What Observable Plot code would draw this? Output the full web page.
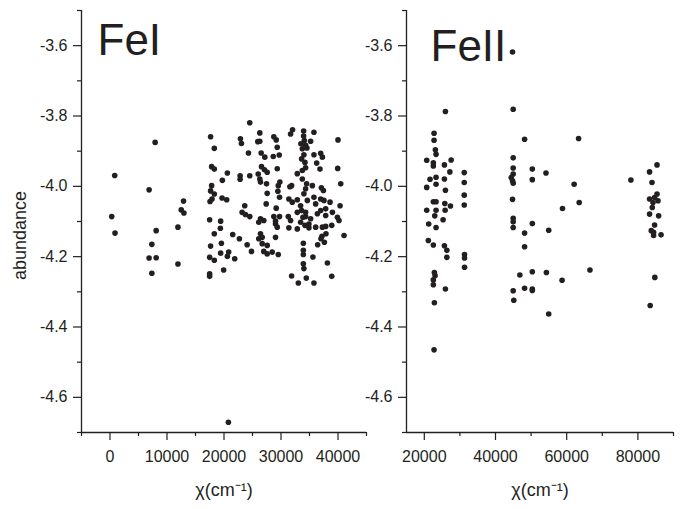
<!DOCTYPE html>
<html><head><meta charset="utf-8">
<script src="https://cdn.jsdelivr.net/npm/d3@7"></script>
<script src="https://cdn.jsdelivr.net/npm/@observablehq/plot@0.6"></script>
<style>
body{margin:0;background:#fff}
#wrap{position:relative;width:682px;height:509px;overflow:hidden}
#wrap svg{position:absolute;top:0}
</style>
</head><body><div id="wrap"></div>
<script>
// Fe I: excitation energy chi (cm^-1) vs abundance
const feI_chi = [7920,830,6860,300,880,8100,7340,6860,8100,7340,
12900,12500,12970,11920,11920,17650,18300,17830,18300,20590,
19710,17830,17650,18300,17550,17900,19660,20470,17480,19410,
19360,18300,17650,19540,19410,20590,17480,18300,19940,17480,
17480,24520,22880,23060,26280,25930,26280,28740,29160,29340,
24290,26520,27160,28640,29690,31680,32030,33970,33970,34090,
35780,35200,33490,34320,33740,34550,34020,33620,34200,35780,
36960,37260,40000,22830,22830,24520,26000,26280,26400,26580,
27100,27580,29340,34320,33740,32860,36260,36840,39950,27460,
29800,29520,27580,29450,29740,31560,31860,33740,34500,34320,
35500,37080,37440,40480,31380,31980,32860,33440,34020,34620,
35780,36080,36960,37540,38600,40360,27400,29160,23640,23180,
23760,24520,26400,26980,26100,28740,29740,29040,29040,29340,
31280,31680,32860,33620,34320,34320,35200,34900,36380,36960,
37840,37840,39020,39900,40180,33850,33440,34200,34900,36080,
31380,32860,37260,37840,38900,21530,22700,24060,26400,26700,
26100,29040,26700,27580,26980,27580,28460,29520,24820,20820,
21880,37190,37890,37010,37610,36430,33920,41060,33920,33920,
35600,38140,33920,34020,31860,33040,34440,35780,38900,20770];
const feI_abund = [-3.875,-3.969,-4.010,-4.086,-4.133,-4.126,-4.165,-4.204,-4.203,-4.247,
-4.042,-4.067,-4.076,-4.116,-4.221,-3.859,-3.892,-3.944,-3.951,-3.962,
-3.983,-3.998,-4.013,-4.022,-4.043,-4.036,-4.033,-4.038,-4.095,-4.099,
-4.119,-4.135,-4.170,-4.162,-4.190,-4.199,-4.202,-4.210,-4.238,-4.249,
-4.256,-3.819,-3.865,-3.878,-3.848,-3.873,-3.872,-3.859,-3.868,-3.889,
-3.905,-3.905,-3.917,-3.915,-3.911,-3.851,-3.839,-3.843,-3.857,-3.870,
-3.846,-3.872,-3.879,-3.883,-3.893,-3.891,-3.910,-3.922,-3.932,-3.910,
-3.906,-3.917,-3.868,-3.970,-3.980,-3.970,-3.965,-3.979,-3.988,-3.944,
-3.953,-3.960,-3.950,-3.947,-3.955,-3.964,-3.934,-3.951,-3.949,-3.993,
-3.988,-3.998,-4.020,-4.014,-4.031,-4.001,-3.998,-3.979,-3.993,-4.007,
-3.998,-4.004,-4.012,-3.993,-4.036,-4.045,-4.038,-4.055,-4.021,-4.040,
-4.031,-4.050,-4.036,-4.040,-4.045,-4.055,-4.050,-4.062,-4.055,-4.074,
-4.080,-4.086,-4.092,-4.097,-4.102,-4.086,-4.086,-4.099,-4.107,-4.116,
-4.086,-4.097,-4.074,-4.069,-4.074,-4.086,-4.092,-4.107,-4.078,-4.069,
-4.064,-4.083,-4.074,-4.088,-4.097,-4.088,-4.102,-4.111,-4.118,-4.116,
-4.118,-4.121,-4.116,-4.114,-4.111,-4.137,-4.149,-4.166,-4.135,-4.145,
-4.149,-4.145,-4.163,-4.168,-4.185,-4.192,-4.187,-4.194,-4.185,-4.187,
-4.206,-4.142,-4.135,-4.149,-4.159,-4.166,-4.162,-4.140,-4.182,-4.194,
-4.201,-4.218,-4.220,-4.234,-4.255,-4.275,-4.261,-4.275,-4.256,-4.671];

// Fe II
const feII_chi = [25930,22740,22740,23110,23300,20680,22540,22540,25650,27540,
27180,31220,21610,23300,25650,23300,20680,31220,25930,31220,
22540,23300,25760,27350,31220,20680,23300,25850,22940,25280,
21240,23300,21130,22540,25650,26330,26330,31300,31300,31300,
22830,23020,22540,22540,25930,22830,22740,44780,44970,48170,
44970,44970,44970,44410,44780,44970,50340,50340,44780,44970,
44970,44970,50340,48170,48170,46840,48170,50340,50340,50340,
44970,45140,63340,54180,62090,78030,58820,63510,54950,54300,
58700,66530,54950,85370,83280,83960,85370,84690,83280,85650,
84240,84040,83280,85820,84690,83760,84410,84410,86500,84750,83450];
const feII_abund = [-3.787,-3.849,-3.869,-3.896,-3.909,-3.926,-3.933,-3.942,-3.939,-3.925,
-3.959,-3.961,-3.980,-3.974,-3.979,-3.994,-4.003,-3.989,-4.011,-4.025,
-4.044,-4.044,-4.049,-4.056,-4.053,-4.068,-4.068,-4.068,-4.084,-4.095,
-4.107,-4.117,-4.154,-4.167,-4.169,-4.182,-4.202,-4.194,-4.204,-4.230,
-4.245,-4.254,-4.266,-4.280,-4.292,-4.331,-4.465,-3.618,-3.781,-3.866,
-3.919,-3.948,-3.965,-3.975,-3.984,-3.991,-3.951,-3.981,-4.037,-4.091,
-4.101,-4.117,-4.106,-4.133,-4.172,-4.252,-4.290,-4.243,-4.292,-4.296,
-4.297,-4.324,-3.864,-3.962,-3.994,-3.982,-4.063,-4.046,-4.125,-4.245,
-4.267,-4.238,-4.363,-3.939,-3.959,-3.989,-4.022,-4.032,-4.036,-4.041,
-4.046,-4.060,-4.079,-4.084,-4.110,-4.126,-4.131,-4.140,-4.138,-4.259,-4.339];

const yDomain = [-4.7, -3.5];
const yMajor = [-4.6, -4.4, -4.2, -4.0, -3.8, -3.6];
const yMinor = [-4.7, -4.5, -4.3, -4.1, -3.9, -3.7, -3.5];
const xDomainI = [-5000, 45000];
const xMajorI = [0, 10000, 20000, 30000, 40000];
const xMinorI = [-5000, 5000, 15000, 25000, 35000, 45000];
const xDomainII = [15000, 90000];
const xMajorII = [20000, 40000, 60000, 80000];
const xMinorII = [30000, 50000, 70000, 90000];
const xLabel = "χ(cm⁻¹)";
const yLabel = "abundance";

const ink = "#231f20";
const font = "'Liberation Sans', Arial, Helvetica, sans-serif";

function panel(o) {
  const data = o.xs.map((x, i) => ({x, y: o.ys[i]}));
  const marks = [
    Plot.ruleX([o.xDomain[0]], {stroke: ink, strokeWidth: 1.3}),
    Plot.ruleY([yDomain[0]], {stroke: ink, strokeWidth: 1.3}),
    Plot.axisY(yMajor, {tickSize: 8, tickPadding: 6, tickFormat: d => d.toFixed(1), label: null, stroke: ink, fill: ink, strokeWidth: 1.2}),
    Plot.axisY(yMinor, {tickSize: 4, tickFormat: () => "", label: null, stroke: ink, strokeWidth: 1.2}),
    Plot.axisX(o.xMajor, {tickSize: 8, tickPadding: 10, tickFormat: d => String(d), label: null, stroke: ink, fill: ink, strokeWidth: 1.2}),
    Plot.axisX(o.xMinor, {tickSize: 4, tickFormat: () => "", label: null, stroke: ink, strokeWidth: 1.2}),
    Plot.dot(data, {x: "x", y: "y", r: 2.8, fill: ink, stroke: "none"}),
    Plot.text([o.title], {frameAnchor: "top-left", dx: o.titleDx, dy: o.titleDy, fontSize: 44, lineAnchor: "bottom", textAnchor: "start", fill: ink}),
    Plot.text([xLabel], {frameAnchor: "bottom", dy: 63, fontSize: 18, lineAnchor: "bottom", textAnchor: "middle", fill: ink})
  ];
  if (o.yLabel) {
    marks.push(Plot.text([o.yLabel], {frameAnchor: "left", dx: -61, dy: 14, rotate: -90, fontSize: 18, textAnchor: "middle", lineAnchor: "middle", fill: ink}));
  }
  const svg = Plot.plot({
    width: o.width, height: 509,
    marginLeft: o.marginLeft, marginRight: o.marginRight, marginTop: 10, marginBottom: 77,
    x: {domain: o.xDomain},
    y: {domain: yDomain},
    style: {fontFamily: font, fontSize: "16px", color: ink, background: "transparent", overflow: "visible"},
    marks
  });
  svg.style.left = o.left + "px";
  return svg;
}

const wrap = document.getElementById("wrap");
wrap.appendChild(panel({
  xs: feI_chi, ys: feI_abund, xDomain: xDomainI, xMajor: xMajorI, xMinor: xMinorI,
  width: 380, left: 0, marginLeft: 81, marginRight: 14,
  title: "FeI", titleDx: 16, titleDy: 44, yLabel
}));
wrap.appendChild(panel({
  xs: feII_chi, ys: feII_abund, xDomain: xDomainII, xMajor: xMajorII, xMinor: xMinorII,
  width: 352, left: 330, marginLeft: 76, marginRight: 9,
  title: "FeII", titleDx: 24, titleDy: 50
}));
</script></body></html>
